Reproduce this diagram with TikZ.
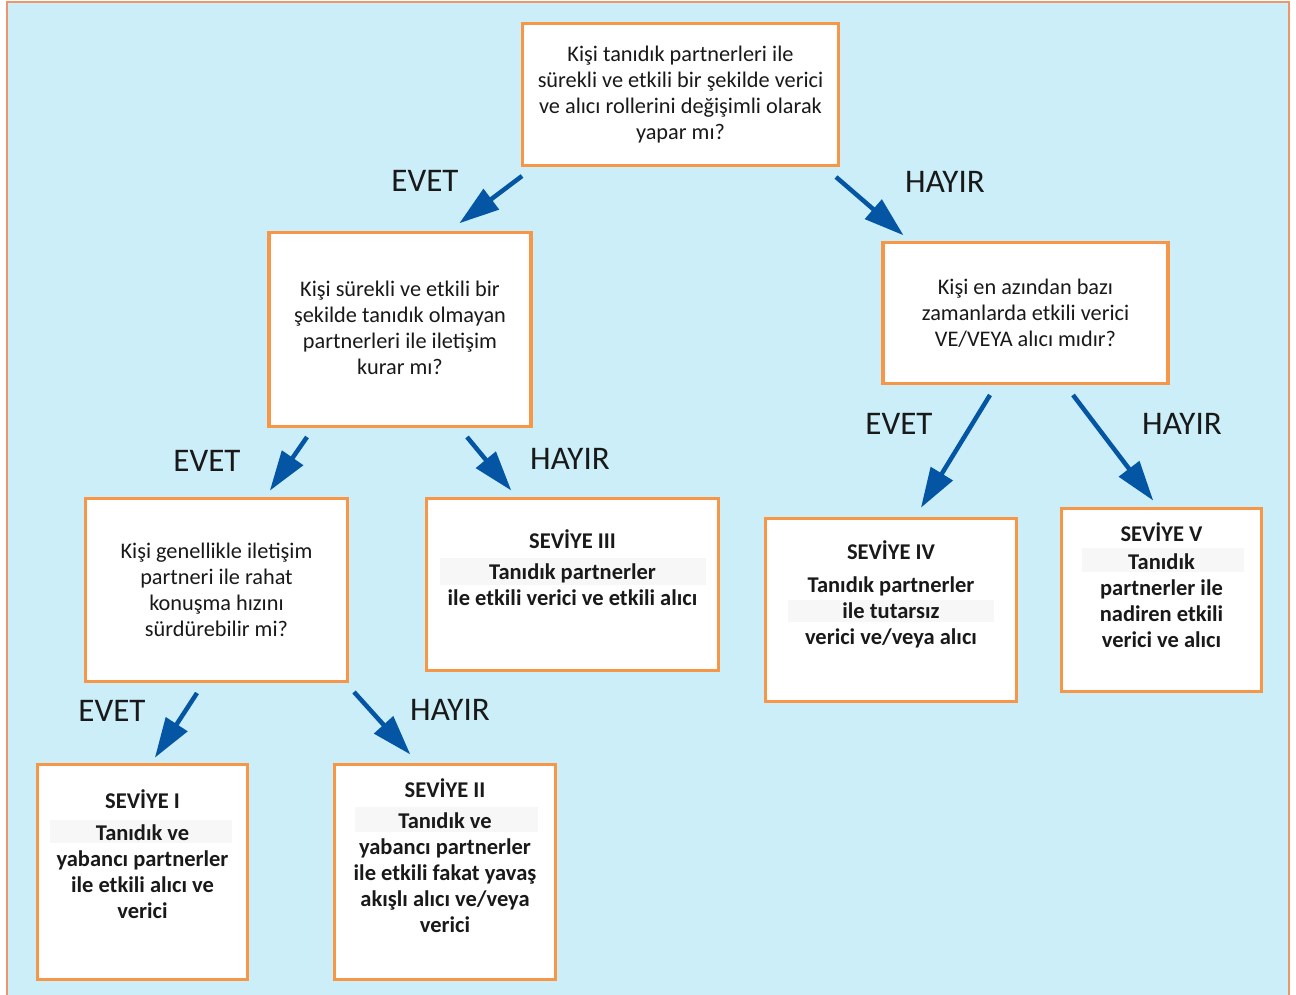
\documentclass[tikz,border=0pt]{standalone}
\usepackage{fontspec}
\setmainfont{Carlito}
\usetikzlibrary{arrows.meta}
\definecolor{bgblue}{RGB}{203,238,249}
\definecolor{frameor}{RGB}{238,150,105}
\definecolor{boxor}{RGB}{247,150,70}
\definecolor{arrblue}{RGB}{5,85,165}
\definecolor{txt}{RGB}{25,25,25}
\tikzset{
  qbox/.style={draw=boxor, line width=3.2pt, fill=white, inner sep=0pt},
  qtext/.style={align=center, text=txt, font=\fontsize{22.3}{26}\selectfont, inner sep=0pt},
  ltext/.style={align=center, text=txt, font=\fontsize{22.5}{26}\selectfont\bfseries, inner sep=0pt},
  lab/.style={text=txt, font=\fontsize{33}{36}\selectfont, inner sep=0pt},
  band/.style={fill=black!3, draw=none},
  arr/.style={draw=arrblue, line width=4.5pt, -{Triangle[length=40pt, width=25pt]}, shorten >=-2pt},
}
\begin{document}
\begin{tikzpicture}[x=1pt,y=-1pt]
\useasboundingbox (0,0) rectangle (1296,995);
\fill[white] (0,0) rectangle (1296,995);
\draw[frameor, line width=2pt, fill=bgblue] (7,2) -- (7,1000) -- (1289,1000) -- (1289,2) -- cycle;

% boxes
\node[qbox, minimum width=316pt, minimum height=142pt] (top) at (680.5,94.5) {};
\node[qbox, minimum width=262pt, minimum height=194pt] (qa) at (400,329.5) {};
\node[qbox, minimum width=285pt, minimum height=141pt] (qb) at (1025.5,313) {};
\node[qbox, minimum width=262pt, minimum height=183pt] (qc) at (216.5,590) {};
\node[qbox, minimum width=292pt, minimum height=172pt] (s3) at (572.5,584.5) {};
\node[qbox, minimum width=251pt, minimum height=183pt] (s4) at (891,610) {};
\node[qbox, minimum width=200pt, minimum height=183pt] (s5) at (1161.5,600) {};
\node[qbox, minimum width=210pt, minimum height=215pt] (s1) at (142.5,872) {};
\node[qbox, minimum width=221pt, minimum height=215pt] (s2) at (445,872) {};

% faint highlight bands
\fill[band] (440,558) rectangle (706,585);
\fill[band] (788,600) rectangle (994,622);
\fill[band] (1082,548) rectangle (1244,572);
\fill[band] (50,820) rectangle (232,843);
\fill[band] (355,807) rectangle (538,832);

% question texts
\node[qtext] (topt) at (680.5,95) {Kişi tanıdık partnerleri ile\\sürekli ve etkili bir şekilde verici\\ve alıcı rollerini değişimli olarak\\yapar mı?};
\node[qtext] (qat) at (400,328) {Kişi sürekli ve etkili bir\\şekilde tanıdık olmayan\\partnerleri ile iletişim\\kurar mı?};
\node[qtext] (qbt) at (1025.5,313) {Kişi en azından bazı\\zamanlarda etkili verici\\VE/VEYA alıcı mıdır?};
\node[qtext] (qct) at (216.5,590) {Kişi genellikle iletişim\\partneri ile rahat\\konuşma hızını\\sürdürebilir mi?};

% level texts
\node[ltext, anchor=north] (s3t) at (572.5,529) {SEVİYE III\\[5pt]Tanıdık partnerler\\ile etkili verici ve etkili alıcı};
\node[ltext, anchor=north] (s4t) at (891,540) {SEVİYE IV\\[7pt]Tanıdık partnerler\\ile tutarsız\\verici ve/veya alıcı};
\node[ltext, anchor=north] (s5t) at (1161.5,522) {SEVİYE V\\[2pt]Tanıdık\\partnerler ile\\nadiren etkili\\verici ve alıcı};
\node[ltext, anchor=north] (s1t) at (142.5,789) {SEVİYE I\\[6pt]Tanıdık ve\\yabancı partnerler\\ile etkili alıcı ve\\verici};
\node[ltext, anchor=north] (s2t) at (445,778) {SEVİYE II\\[5pt]Tanıdık ve\\yabancı partnerler\\ile etkili fakat yavaş\\akışlı alıcı ve/veya\\verici};

% labels
\node[lab] (l1) at (425,181) {EVET};
\node[lab] (l2) at (945,182) {HAYIR};
\node[lab] (l3) at (207,461) {EVET};
\node[lab] (l4) at (570,459) {HAYIR};
\node[lab] (l5) at (899,424) {EVET};
\node[lab] (l6) at (1182,424) {HAYIR};
\node[lab] (l7) at (112,711) {EVET};
\node[lab] (l8) at (450,710) {HAYIR};

% arrow endpoints
\coordinate (a1s) at (522,176); \coordinate (a1e) at (461,222);
\coordinate (a2s) at (836,177); \coordinate (a2e) at (902,234);
\coordinate (a3s) at (307,437); \coordinate (a3e) at (271,489);
\coordinate (a4s) at (467,437); \coordinate (a4e) at (510,489);
\coordinate (a5s) at (990,395); \coordinate (a5e) at (922,506);
\coordinate (a6s) at (1073,395); \coordinate (a6e) at (1152,499);
\coordinate (a7s) at (197,693); \coordinate (a7e) at (156,756);
\coordinate (a8s) at (354,692); \coordinate (a8e) at (409,753);

\draw[arr] (a1s) -- (a1e);
\draw[arr] (a2s) -- (a2e);
\draw[arr] (a3s) -- (a3e);
\draw[arr] (a4s) -- (a4e);
\draw[arr] (a5s) -- (a5e);
\draw[arr] (a6s) -- (a6e);
\draw[arr] (a7s) -- (a7e);
\draw[arr] (a8s) -- (a8e);
\end{tikzpicture}
\end{document}
